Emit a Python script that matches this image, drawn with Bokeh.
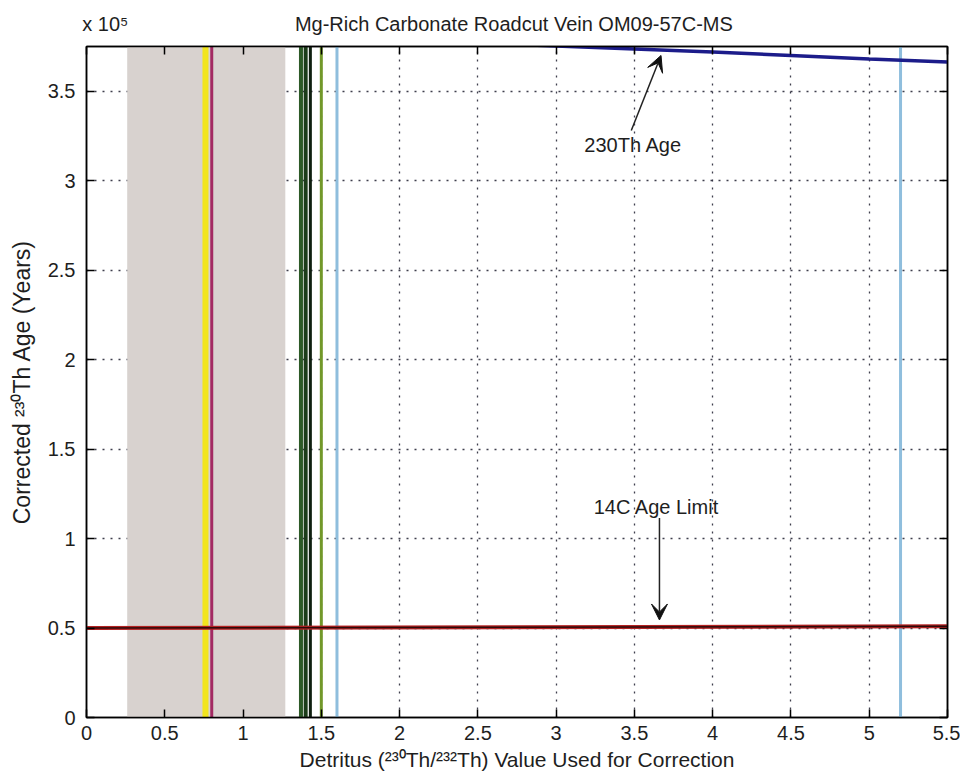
from bokeh.plotting import figure
from bokeh.models import (FixedTicker, LinearAxis, CustomJSTickFormatter, Arrow, VeeHead, Range1d)
from bokeh.core.properties import value
from bokeh.embed import file_html
from bokeh.resources import INLINE

FONT = "Liberation Sans"
TXT = "#1e1e1e"

# ---- data ----
x_ticks = [0, 0.5, 1, 1.5, 2, 2.5, 3, 3.5, 4, 4.5, 5, 5.5]
y_ticks = [0, 50000, 100000, 150000, 200000, 250000, 300000, 350000]

band_left = [0.26]
band_right = [1.27]

vline_x = [0.76, 0.80, 1.37, 1.40, 1.43, 1.50, 1.60, 5.20]
vline_color = ["#f2e51e", "#a32a62", "#2d5a27", "#1c3c1a", "#0f1f0f", "#72982a", "#8fbedd", "#8fbedd"]
vline_width = [6, 3, 4, 4, 3, 3, 3, 3]

age_x = [2.5, 3.0, 3.5, 4.0, 4.5, 5.0, 5.5]
age_y = [377000, 375300, 373600, 371900, 370000, 368000, 366300]

limit_x = [0, 5.5]
limit_y = [50000, 51000]

title = "Mg-Rich Carbonate Roadcut Vein OM09-57C-MS"
scale_note = "x 10\u2075"
xlabel = "Detritus (\u00b2\u00b3\u2070Th/\u00b2\u00b3\u00b2Th) Value Used for Correction"
ylabel = "Corrected \u00b2\u00b3\u2070Th Age (Years)"

p = figure(width=960, height=779, output_backend="svg", toolbar_location=None, title=None,
           x_range=Range1d(0, 5.5), y_range=Range1d(0, 375000),
           min_border_left=86, min_border_right=13, min_border_top=46, min_border_bottom=62)

p.outline_line_color = "black"
p.outline_line_width = 1.5

# shaded band
p.quad(left=band_left, right=band_right, bottom=[0], top=[375000],
       fill_color="#d8d2cf", line_color=None)

# vertical lines
for xv, c, w in zip(vline_x, vline_color, vline_width):
    p.segment(x0=[xv], y0=[0], x1=[xv], y1=[375000], line_color=c, line_width=w)

# 14C age limit
p.line(limit_x, limit_y, line_color="#b42222", line_width=4)
p.line(limit_x, limit_y, line_color="#2a0a0a", line_width=1.5)

# 230Th age line
p.line(age_x, age_y, line_color="#1c1c8a", line_width=3.5)

# axes styling
for ax in (p.xaxis[0], p.yaxis[0]):
    ax.major_tick_in = 8
    ax.major_tick_out = 0
    ax.minor_tick_line_color = None
    ax.axis_line_color = "black"
    ax.axis_line_width = 1.5
    ax.major_tick_line_width = 1.5
    ax.major_label_text_font = FONT
    ax.major_label_text_font_size = "20px"
    ax.major_label_text_color = TXT
    ax.axis_label_text_font = FONT
    ax.axis_label_text_font_style = "normal"
    ax.axis_label_text_color = TXT

p.xaxis.axis_label_text_font_size = "21px"
p.yaxis.axis_label_text_font_size = "23px"
p.xaxis.ticker = FixedTicker(ticks=x_ticks)
p.yaxis.ticker = FixedTicker(ticks=y_ticks)
p.yaxis.formatter = CustomJSTickFormatter(code="return (tick/1e5).toString();")
p.xaxis.axis_label = xlabel
p.yaxis.axis_label = ylabel
p.xaxis.major_label_standoff = 8
p.xaxis.axis_label_standoff = 5
p.yaxis.major_label_standoff = 11
p.yaxis.axis_label_standoff = 10

blank = CustomJSTickFormatter(code="return '';")
right = LinearAxis(ticker=FixedTicker(ticks=y_ticks), formatter=blank,
                   major_tick_in=8, major_tick_out=0, minor_tick_line_color=None,
                   major_label_standoff=0, major_label_text_font_size="1px",
                   axis_line_width=1.5, major_tick_line_width=1.5)
p.add_layout(right, "right")
top = LinearAxis(ticker=FixedTicker(ticks=x_ticks), formatter=blank,
                 major_tick_in=8, major_tick_out=0, minor_tick_line_color=None,
                 major_label_standoff=0, major_label_text_font_size="1px",
                 axis_line_width=1.5, major_tick_line_width=1.5)
p.add_layout(top, "above")

# title row: scale note and chart title placed above the frame
head = LinearAxis(ticker=FixedTicker(ticks=[0.12, 2.73]),
                  major_label_overrides={0.12: scale_note, 2.73: title},
                  major_tick_line_color=None, minor_tick_line_color=None,
                  axis_line_color=None, major_label_standoff=6,
                  major_label_text_font=FONT, major_label_text_font_size="20px",
                  major_label_text_color=TXT)
p.add_layout(head, "above")

p.xgrid.ticker = FixedTicker(ticks=x_ticks)
p.ygrid.ticker = FixedTicker(ticks=y_ticks)
for g in (p.xgrid[0], p.ygrid[0]):
    g.grid_line_color = "#2a2a3a"
    g.grid_line_dash = "2 6"
    g.grid_line_width = 1.3
    g.grid_line_alpha = 0.9

# annotations
p.add_layout(Arrow(end=VeeHead(size=16, fill_color="#111111", line_color="#111111"),
                   x_start=3.48, y_start=328000, x_end=3.67, y_end=370000,
                   line_color="#222222", line_width=1.5))
p.add_layout(Arrow(end=VeeHead(size=16, fill_color="#111111", line_color="#111111"),
                   x_start=3.66, y_start=111500, x_end=3.66, y_end=54500,
                   line_color="#222222", line_width=1.5))
p.text(x=[3.18], y=[319700], text=["230Th Age"], text_font=value(FONT),
       text_font_size="20px", text_baseline="middle", text_color=TXT)
p.text(x=[3.24], y=[117400], text=["14C Age Limit"], text_font=value(FONT),
       text_font_size="20px", text_baseline="middle", text_color=TXT)

open("out.html", "w").write(file_html(p, INLINE))
